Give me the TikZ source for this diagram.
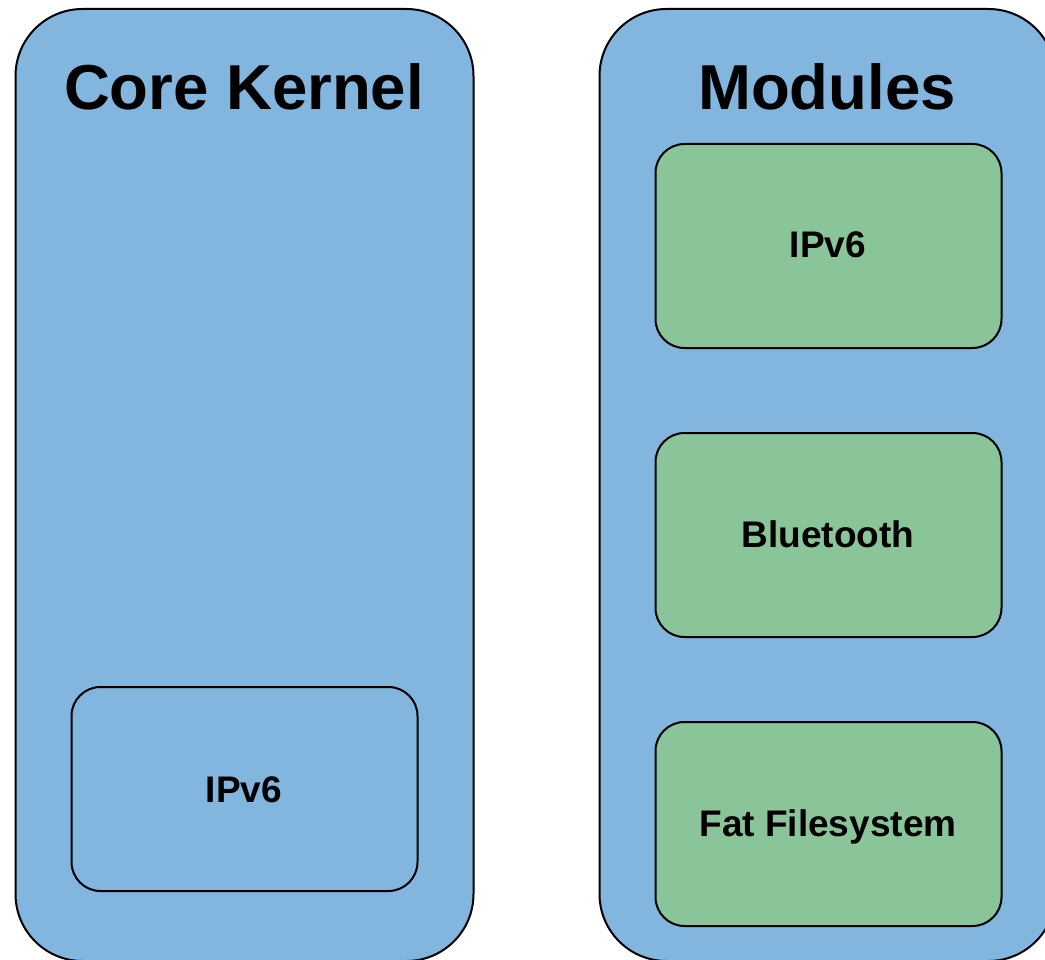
\documentclass[tikz,border=0pt]{standalone}
\usepackage{fontspec}
\setmainfont{Liberation Sans}
\definecolor{kblue}{HTML}{82B6DE}
\definecolor{kgreen}{HTML}{8AC499}
\begin{document}
\begin{tikzpicture}[x=1pt,y=-1pt,
  bigbox/.style={draw=black, line width=2pt, fill=kblue, rounded corners=67pt, inner sep=0pt, anchor=north west, minimum width=458pt, minimum height=952pt},
  modbox/.style={draw=black, line width=2pt, rounded corners=29pt, inner sep=0pt, anchor=north west, minimum width=346pt, minimum height=204pt},
  title/.style={anchor=base, inner sep=0pt, font=\fontsize{63.5}{70}\selectfont\bfseries},
  label/.style={anchor=base, inner sep=0pt, font=\fontsize{37}{42}\selectfont\bfseries}]
\useasboundingbox (0,0) rectangle (1045,960);
\clip (0,0) rectangle (1045,960);
\node[bigbox] (core) at (14.5,8) {};
\node[bigbox, minimum width=456pt] (mods) at (598.5,8) {};
\node[title] (coreT) at (244,110) {Core Kernel};
\node[title] (modsT) at (827,110) {Modules};
\node[modbox, fill=kblue] (kipv6) at (70.5,686) {};
\node[modbox, fill=kgreen] (mipv6) at (654.5,143) {};
\node[modbox, fill=kgreen] (mbt) at (654.5,432) {};
\node[modbox, fill=kgreen] (mfat) at (654.5,721) {};
\node[label] (kipv6T) at (244,802) {IPv6};
\node[label] (mipv6T) at (828,258) {IPv6};
\node[label] (mbtT) at (828,547) {Bluetooth};
\node[label] (mfatT) at (828,836) {Fat Filesystem};
\end{tikzpicture}
\end{document}
